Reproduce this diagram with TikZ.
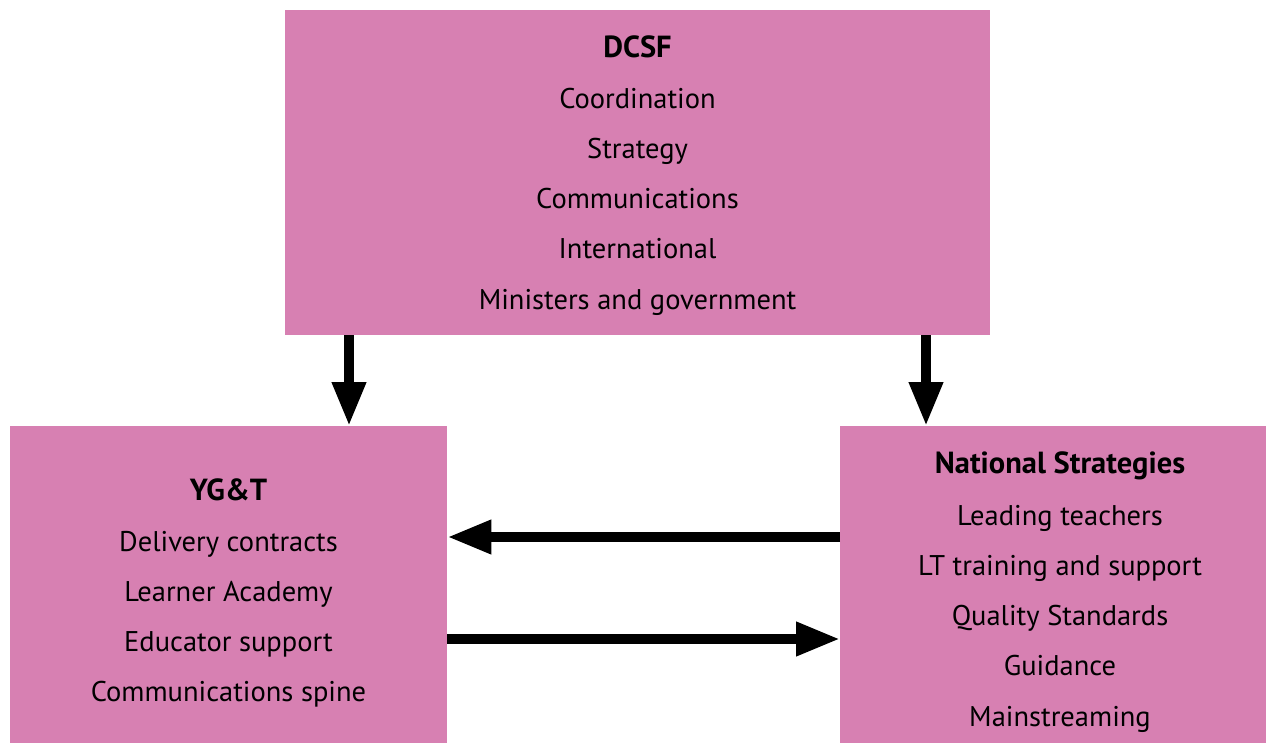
\documentclass[tikz,border=0pt]{standalone}
\usepackage{fontspec}
\setmainfont{PT Sans}
\usetikzlibrary{arrows.meta}
\definecolor{boxpink}{HTML}{D780B2}
\tikzset{
  box/.style={draw=none, fill=boxpink, inner sep=0pt, minimum width=#1},
  txt/.style={anchor=base, inner sep=0pt, font=\fontsize{28.5}{32}\selectfont},
  head/.style={txt, font=\fontsize{30.5}{32}\selectfont\bfseries},
  bigarrow/.style={line width=10pt, -{Triangle[width=32pt,length=44pt]}}
}
\begin{document}
\begin{tikzpicture}[x=1pt,y=-1pt]
\useasboundingbox (0,0) rectangle (1266,743);
% boxes
\node[box=705pt, minimum height=325pt, anchor=north west] (dcsf) at (285,10) {};
\node[box=437pt, minimum height=317pt, anchor=north west] (ygt) at (10,426) {};
\node[box=426pt, minimum height=317pt, anchor=north west] (ns) at (840,426) {};
% top text
\node[head] (t0) at (637.5,58) {DCSF};
\node[txt] (t1) at (637.5,109) {Coordination};
\node[txt] (t2) at (637.5,159) {Strategy};
\node[txt] (t3) at (637.5,209) {Communications};
\node[txt] (t4) at (637.5,259) {International};
\node[txt] (t5) at (637.5,309) {Ministers and government};
% left text
\node[head] (l0) at (228.5,500) {YG\&T};
\node[txt] (l1) at (228.5,551) {Delivery contracts};
\node[txt] (l2) at (228.5,601) {Learner Academy};
\node[txt] (l3) at (228.5,651) {Educator support};
\node[txt] (l4) at (228.5,701) {Communications spine};
% right text
\node[head] (r0) at (1060,473) {National Strategies};
\node[txt] (r1) at (1060,525) {Leading teachers};
\node[txt] (r2) at (1060,575) {LT training and support};
\node[txt] (r3) at (1060,625) {Quality Standards};
\node[txt] (r4) at (1060,675) {Guidance};
\node[txt] (r5) at (1060,726) {Mainstreaming};
% arrows
\draw[bigarrow] (dcsf.south -| 349,0) -- (ygt.north -| 349,0);
\draw[bigarrow] (dcsf.south -| 926,0) -- (ns.north -| 926,0);
\draw[bigarrow] (ns.west |- 0,537) -- (ygt.east |- 0,537);
\draw[bigarrow] (ygt.east |- 0,639) -- (ns.west |- 0,639);
\end{tikzpicture}
\end{document}
